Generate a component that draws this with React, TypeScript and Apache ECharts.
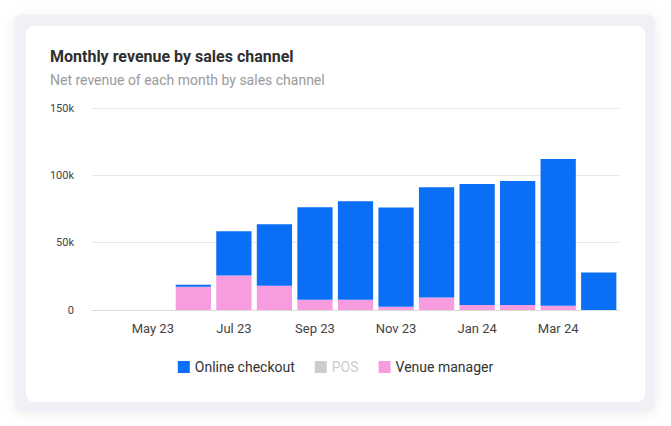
import React, { useEffect, useRef } from "react";
import * as echarts from "echarts";

const months = ["Apr 23", "May 23", "Jun 23", "Jul 23", "Aug 23", "Sep 23", "Oct 23", "Nov 23", "Dec 23", "Jan 24", "Feb 24", "Mar 24", "Apr 24"];
const onlineCheckout = [0, 0, 1500, 32800, 45600, 68600, 73100, 73600, 82000, 89800, 92000, 109000, 27800];
const pos = [0, 0, 0, 0, 0, 0, 0, 0, 0, 0, 0, 0, 0];
const venueManager = [0, 0, 17200, 25600, 18100, 7700, 7700, 2500, 9200, 3700, 3700, 3200, 0];
const yTicks = { min: 0, max: 150000, interval: 50000 };

const FONT = "Roboto, 'Noto Sans', sans-serif";

export default function App() {
  const ref = useRef<HTMLDivElement>(null);
  useEffect(() => {
    if (!ref.current) return;
    const chart = echarts.init(ref.current, undefined, { renderer: "svg" });
    chart.setOption({
      animation: false,
      textStyle: { fontFamily: FONT },
      graphic: [
        {
          type: "text",
          left: 50,
          top: 48,
          style: { text: "Monthly revenue by sales channel", font: `bold 16px ${FONT}`, fill: "#2f2f2f" },
        },
        {
          type: "text",
          left: 50,
          top: 73,
          style: { text: "Net revenue of each month by sales channel", font: `14px ${FONT}`, fill: "#9a9a9a" },
        },
      ],
      legend: {
        data: ["Online checkout", "POS", "Venue manager"],
        selected: { POS: false },
        left: "center",
        top: 355,
        itemWidth: 12,
        itemHeight: 12,
        itemGap: 20,
        icon: "rect",
        textStyle: { fontSize: 14, color: "#333", fontFamily: FONT },
        inactiveColor: "#cccccc",
      },
      grid: { left: 92, right: 52, top: 108, bottom: 116, containLabel: false },
      xAxis: {
        type: "category",
        data: months,
        axisTick: { show: false },
        axisLine: { lineStyle: { color: "#dcdcdc" } },
        axisLabel: {
          interval: (i: number) => i % 2 === 1,
          fontSize: 13,
          color: "#444",
          margin: 12,
          fontFamily: FONT,
        },
      },
      yAxis: {
        type: "value",
        min: yTicks.min,
        max: yTicks.max,
        interval: yTicks.interval,
        axisLabel: {
          fontSize: 11,
          color: "#444",
          margin: 18,
          fontFamily: FONT,
          formatter: (v: number) => (v === 0 ? "0" : `${v / 1000}k`),
        },
        splitLine: { lineStyle: { color: "#e6e6e6" } },
        axisLine: { show: false },
        axisTick: { show: false },
      },
      series: [
        { name: "Venue manager", type: "bar", stack: "total", data: venueManager, itemStyle: { color: "#f79ddf" }, barCategoryGap: "13%" },
        { name: "POS", type: "bar", stack: "total", data: pos, itemStyle: { color: "#c9c9c9" }, barCategoryGap: "13%" },
        { name: "Online checkout", type: "bar", stack: "total", data: onlineCheckout, itemStyle: { color: "#0b6ff6" }, barCategoryGap: "13%" },
      ],
    });
    return () => chart.dispose();
  }, []);

  return (
    <div style={{ position: "absolute", left: 0, top: 0, width: 671, height: 426, background: "#fff", overflow: "hidden" }}>
      <div
        style={{
          position: "absolute",
          left: 15,
          top: 15,
          width: 640,
          height: 396,
          background: "#f0f1f6",
          borderRadius: 6,
          boxShadow: "0 2px 14px rgba(0,0,0,0.08)",
        }}
      />
      <div
        style={{
          position: "absolute",
          left: 26,
          top: 26,
          width: 619,
          height: 376,
          background: "#ffffff",
          borderRadius: 8,
        }}
      />
      <div ref={ref} style={{ position: "absolute", left: 0, top: 0, width: 671, height: 426 }} />
    </div>
  );
}
